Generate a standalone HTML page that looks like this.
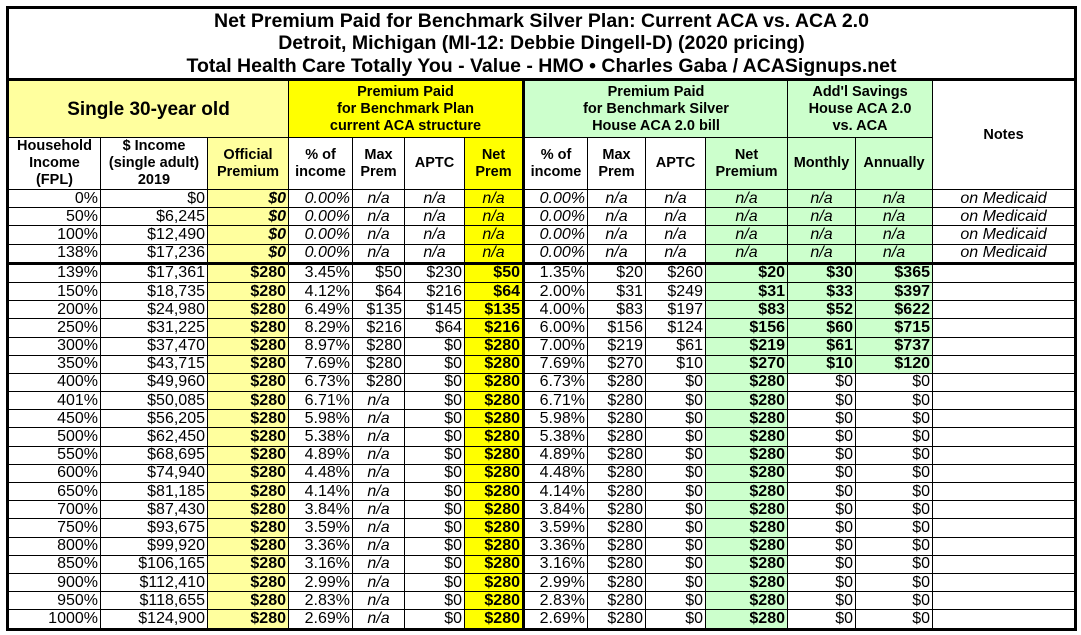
<!DOCTYPE html>
<html><head><meta charset="utf-8"><style>
body{margin:0;width:1081px;height:635px;background:#fff;overflow:hidden;position:relative;font-family:"Liberation Sans",Arial,sans-serif;}
table{position:absolute;left:6px;top:6px;border-collapse:collapse;table-layout:fixed;border:3px solid #000;}
td{border:1px solid #000;padding:0 2px;font-size:16px;line-height:16px;overflow:hidden;white-space:nowrap;color:#000;}
tr.d td{height:17.2px;text-align:right;}
.t{font-weight:bold;font-size:19.5px;line-height:22.5px;text-align:center;height:69px;border-bottom:3px solid #000;}
.h{font-weight:bold;font-size:14.5px;line-height:17px;text-align:center;white-space:normal;}
.ly{background:#ffff9e}.by{background:#ffff00}.g{background:#ccffcc}
.i{font-style:italic}.b{font-weight:bold}.c{text-align:center!important}
.tk{border-bottom:3px solid #000}
.lv{border-left:3px solid #000}
</style></head><body>
<table>
<colgroup><col style="width:93px"><col style="width:107px"><col style="width:81px"><col style="width:64px"><col style="width:52px"><col style="width:60px"><col style="width:59px"><col style="width:64px"><col style="width:58px"><col style="width:60px"><col style="width:82px"><col style="width:68px"><col style="width:77px"><col style="width:143px"></colgroup>
<tr><td colspan="14" class="t">Net Premium Paid for Benchmark Silver Plan: Current ACA vs. ACA 2.0<br>Detroit, Michigan (MI-12: Debbie Dingell-D) (2020 pricing)<br>Total Health Care Totally You - Value - HMO • Charles Gaba / ACASignups.net</td></tr>
<tr style="height:58px"><td colspan="3" class="h ly" style="font-size:19px">Single 30-year old</td><td colspan="4" class="h by">Premium Paid<br>for Benchmark Plan<br>current ACA structure</td><td colspan="4" class="h g lv">Premium Paid<br>for Benchmark Silver<br>House ACA 2.0 bill</td><td colspan="2" class="h g">Add'l Savings<br>House ACA 2.0<br>vs. ACA</td><td rowspan="2" class="h">Notes</td></tr>
<tr style="height:47px"><td class="h">Household Income (FPL)</td><td class="h">$ Income (single adult) 2019</td><td class="h ly">Official Premium</td><td class="h">% of income</td><td class="h">Max Prem</td><td class="h">APTC</td><td class="h by">Net Prem</td><td class="h lv">% of income</td><td class="h">Max Prem</td><td class="h">APTC</td><td class="h g">Net Premium</td><td class="h g">Monthly</td><td class="h g">Annually</td></tr>
<tr class="d"><td>0%</td><td>$0</td><td class="ly b i">$0</td><td class="i">0.00%</td><td class="i c">n/a</td><td class="i c">n/a</td><td class="by i c">n/a</td><td class="i lv">0.00%</td><td class="i c">n/a</td><td class="i c">n/a</td><td class="g i c">n/a</td><td class="g i c">n/a</td><td class="g i c">n/a</td><td class="i c">on Medicaid</td></tr>
<tr class="d"><td>50%</td><td>$6,245</td><td class="ly b i">$0</td><td class="i">0.00%</td><td class="i c">n/a</td><td class="i c">n/a</td><td class="by i c">n/a</td><td class="i lv">0.00%</td><td class="i c">n/a</td><td class="i c">n/a</td><td class="g i c">n/a</td><td class="g i c">n/a</td><td class="g i c">n/a</td><td class="i c">on Medicaid</td></tr>
<tr class="d"><td>100%</td><td>$12,490</td><td class="ly b i">$0</td><td class="i">0.00%</td><td class="i c">n/a</td><td class="i c">n/a</td><td class="by i c">n/a</td><td class="i lv">0.00%</td><td class="i c">n/a</td><td class="i c">n/a</td><td class="g i c">n/a</td><td class="g i c">n/a</td><td class="g i c">n/a</td><td class="i c">on Medicaid</td></tr>
<tr class="d tk"><td class="tk">138%</td><td class="tk">$17,236</td><td class="ly b i tk">$0</td><td class="i tk">0.00%</td><td class="i c tk">n/a</td><td class="i c tk">n/a</td><td class="by i c tk">n/a</td><td class="i lv tk">0.00%</td><td class="i c tk">n/a</td><td class="i c tk">n/a</td><td class="g i c tk">n/a</td><td class="g i c tk">n/a</td><td class="g i c tk">n/a</td><td class="i c tk">on Medicaid</td></tr>
<tr class="d"><td>139%</td><td>$17,361</td><td class="ly b">$280</td><td>3.45%</td><td>$50</td><td>$230</td><td class="by b">$50</td><td class="lv">1.35%</td><td>$20</td><td>$260</td><td class="g b">$20</td><td class="g b">$30</td><td class="g b">$365</td><td></td></tr>
<tr class="d"><td>150%</td><td>$18,735</td><td class="ly b">$280</td><td>4.12%</td><td>$64</td><td>$216</td><td class="by b">$64</td><td class="lv">2.00%</td><td>$31</td><td>$249</td><td class="g b">$31</td><td class="g b">$33</td><td class="g b">$397</td><td></td></tr>
<tr class="d"><td>200%</td><td>$24,980</td><td class="ly b">$280</td><td>6.49%</td><td>$135</td><td>$145</td><td class="by b">$135</td><td class="lv">4.00%</td><td>$83</td><td>$197</td><td class="g b">$83</td><td class="g b">$52</td><td class="g b">$622</td><td></td></tr>
<tr class="d"><td>250%</td><td>$31,225</td><td class="ly b">$280</td><td>8.29%</td><td>$216</td><td>$64</td><td class="by b">$216</td><td class="lv">6.00%</td><td>$156</td><td>$124</td><td class="g b">$156</td><td class="g b">$60</td><td class="g b">$715</td><td></td></tr>
<tr class="d"><td>300%</td><td>$37,470</td><td class="ly b">$280</td><td>8.97%</td><td>$280</td><td>$0</td><td class="by b">$280</td><td class="lv">7.00%</td><td>$219</td><td>$61</td><td class="g b">$219</td><td class="g b">$61</td><td class="g b">$737</td><td></td></tr>
<tr class="d"><td>350%</td><td>$43,715</td><td class="ly b">$280</td><td>7.69%</td><td>$280</td><td>$0</td><td class="by b">$280</td><td class="lv">7.69%</td><td>$270</td><td>$10</td><td class="g b">$270</td><td class="g b">$10</td><td class="g b">$120</td><td></td></tr>
<tr class="d"><td>400%</td><td>$49,960</td><td class="ly b">$280</td><td>6.73%</td><td>$280</td><td>$0</td><td class="by b">$280</td><td class="lv">6.73%</td><td>$280</td><td>$0</td><td class="g b">$280</td><td>$0</td><td>$0</td><td></td></tr>
<tr class="d"><td>401%</td><td>$50,085</td><td class="ly b">$280</td><td>6.71%</td><td class="i c">n/a</td><td>$0</td><td class="by b">$280</td><td class="lv">6.71%</td><td>$280</td><td>$0</td><td class="g b">$280</td><td>$0</td><td>$0</td><td></td></tr>
<tr class="d"><td>450%</td><td>$56,205</td><td class="ly b">$280</td><td>5.98%</td><td class="i c">n/a</td><td>$0</td><td class="by b">$280</td><td class="lv">5.98%</td><td>$280</td><td>$0</td><td class="g b">$280</td><td>$0</td><td>$0</td><td></td></tr>
<tr class="d"><td>500%</td><td>$62,450</td><td class="ly b">$280</td><td>5.38%</td><td class="i c">n/a</td><td>$0</td><td class="by b">$280</td><td class="lv">5.38%</td><td>$280</td><td>$0</td><td class="g b">$280</td><td>$0</td><td>$0</td><td></td></tr>
<tr class="d"><td>550%</td><td>$68,695</td><td class="ly b">$280</td><td>4.89%</td><td class="i c">n/a</td><td>$0</td><td class="by b">$280</td><td class="lv">4.89%</td><td>$280</td><td>$0</td><td class="g b">$280</td><td>$0</td><td>$0</td><td></td></tr>
<tr class="d"><td>600%</td><td>$74,940</td><td class="ly b">$280</td><td>4.48%</td><td class="i c">n/a</td><td>$0</td><td class="by b">$280</td><td class="lv">4.48%</td><td>$280</td><td>$0</td><td class="g b">$280</td><td>$0</td><td>$0</td><td></td></tr>
<tr class="d"><td>650%</td><td>$81,185</td><td class="ly b">$280</td><td>4.14%</td><td class="i c">n/a</td><td>$0</td><td class="by b">$280</td><td class="lv">4.14%</td><td>$280</td><td>$0</td><td class="g b">$280</td><td>$0</td><td>$0</td><td></td></tr>
<tr class="d"><td>700%</td><td>$87,430</td><td class="ly b">$280</td><td>3.84%</td><td class="i c">n/a</td><td>$0</td><td class="by b">$280</td><td class="lv">3.84%</td><td>$280</td><td>$0</td><td class="g b">$280</td><td>$0</td><td>$0</td><td></td></tr>
<tr class="d"><td>750%</td><td>$93,675</td><td class="ly b">$280</td><td>3.59%</td><td class="i c">n/a</td><td>$0</td><td class="by b">$280</td><td class="lv">3.59%</td><td>$280</td><td>$0</td><td class="g b">$280</td><td>$0</td><td>$0</td><td></td></tr>
<tr class="d"><td>800%</td><td>$99,920</td><td class="ly b">$280</td><td>3.36%</td><td class="i c">n/a</td><td>$0</td><td class="by b">$280</td><td class="lv">3.36%</td><td>$280</td><td>$0</td><td class="g b">$280</td><td>$0</td><td>$0</td><td></td></tr>
<tr class="d"><td>850%</td><td>$106,165</td><td class="ly b">$280</td><td>3.16%</td><td class="i c">n/a</td><td>$0</td><td class="by b">$280</td><td class="lv">3.16%</td><td>$280</td><td>$0</td><td class="g b">$280</td><td>$0</td><td>$0</td><td></td></tr>
<tr class="d"><td>900%</td><td>$112,410</td><td class="ly b">$280</td><td>2.99%</td><td class="i c">n/a</td><td>$0</td><td class="by b">$280</td><td class="lv">2.99%</td><td>$280</td><td>$0</td><td class="g b">$280</td><td>$0</td><td>$0</td><td></td></tr>
<tr class="d"><td>950%</td><td>$118,655</td><td class="ly b">$280</td><td>2.83%</td><td class="i c">n/a</td><td>$0</td><td class="by b">$280</td><td class="lv">2.83%</td><td>$280</td><td>$0</td><td class="g b">$280</td><td>$0</td><td>$0</td><td></td></tr>
<tr class="d"><td>1000%</td><td>$124,900</td><td class="ly b">$280</td><td>2.69%</td><td class="i c">n/a</td><td>$0</td><td class="by b">$280</td><td class="lv">2.69%</td><td>$280</td><td>$0</td><td class="g b">$280</td><td>$0</td><td>$0</td><td></td></tr>
</table>
</body></html>
